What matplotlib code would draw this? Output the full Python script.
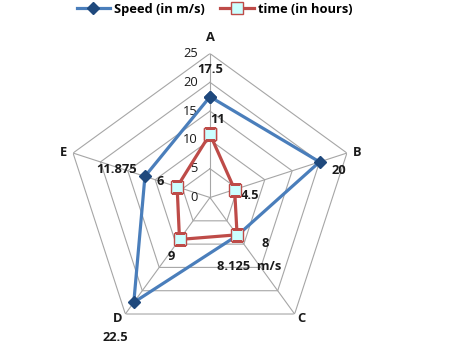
import numpy as np
import matplotlib
matplotlib.use("Agg")
import matplotlib.pyplot as plt
from matplotlib.lines import Line2D

plt.rcParams['font.family'] = ['Open Sans', 'DejaVu Sans']

categories = ['A', 'B', 'C', 'D', 'E']
speed = [17.5, 20, 8.125, 22.5, 11.875]
time_h = [11, 4.5, 8, 9, 6]
speed_labels = ['17.5', '20', '8.125  m/s', '22.5', '11.875']
time_labels = ['11', '4.5', '8', '9', '6']
ticks = [0, 5, 10, 15, 20, 25]

blue = '#4A7EBB'
red = '#BE4B48'
grid_c = '#A6A6A6'
txt_c = '#1a1a1a'
fs = 9.3

angles = np.deg2rad(np.arange(len(categories)) * 72.0)
closed = np.append(angles, angles[0])

fig = plt.figure(figsize=(4.64, 3.59), dpi=100)
ax = fig.add_axes([0.1422, 0.0487, 0.6207, 0.8022], projection='polar')
ax.set_theta_offset(np.pi / 2)
ax.set_theta_direction(-1)
ax.set_ylim(0, 25)
ax.grid(False)
ax.spines['polar'].set_visible(False)
ax.set_xticks([])
ax.set_yticks([])
ax.patch.set_alpha(0)

# pentagon grid
for t in ticks[1:]:
    ax.plot(closed, [t] * len(closed), color=grid_c, lw=0.8, zorder=1)
for a in angles:
    ax.plot([a, a], [0, 25], color=grid_c, lw=0.8, zorder=1)

# tick labels along axis A
for t in ticks:
    ax.annotate(str(t), (0, t), xytext=(-12, 0), textcoords='offset pixels',
                ha='right', va='center', fontsize=fs, color=txt_c)

# category labels
cat_off = [(0, 16), (10, 1), (7, -4), (-8, -4), (-10, 1)]
for a, c, off in zip(angles, categories, cat_off):
    ax.annotate(c, (a, 25), xytext=off, textcoords='offset pixels',
                ha='center', va='center', fontsize=fs, fontweight='bold', color=txt_c)

ax.plot(closed, speed + speed[:1], color=blue, lw=2.3, marker='D', markersize=6,
        markerfacecolor='#1F497D', markeredgecolor='#1F497D', zorder=3)
ax.plot(closed, time_h + time_h[:1], color=red, lw=2.3, marker='s', markersize=8,
        markerfacecolor='#CCFFFF', markeredgecolor=red, markeredgewidth=1, zorder=4)

speed_off = [(0, 27), (19, -9), (12, -31), (-18, -35), (-28, 7)]
time_off = [(8, 15), (15, -6), (28, -9), (-8, -17), (-17, 5)]
for a, v, s, off in zip(angles, speed, speed_labels, speed_off):
    ax.annotate(s, (a, v), xytext=off, textcoords='offset pixels',
                ha='center', va='center', fontsize=fs, fontweight='bold', color=txt_c)
for a, v, s, off in zip(angles, time_h, time_labels, time_off):
    ax.annotate(s, (a, v), xytext=off, textcoords='offset pixels',
                ha='center', va='center', fontsize=fs, fontweight='bold', color=txt_c)

handles = [
    Line2D([], [], color=blue, lw=2.3, marker='D', markersize=6,
           markerfacecolor='#1F497D', markeredgecolor='#1F497D'),
    Line2D([], [], color=red, lw=2.3, marker='s', markersize=8,
           markerfacecolor='#CCFFFF', markeredgecolor=red),
]
fig.legend(handles, ['Speed (in m/s)', 'time (in hours)'], loc='upper center',
           bbox_to_anchor=(0.462, 1.025), ncol=2, frameon=False, handlelength=2.6,
           columnspacing=1.2, handletextpad=0.3,
           prop={'size': fs, 'weight': 'bold'})

fig.savefig('out.png', dpi=100)
